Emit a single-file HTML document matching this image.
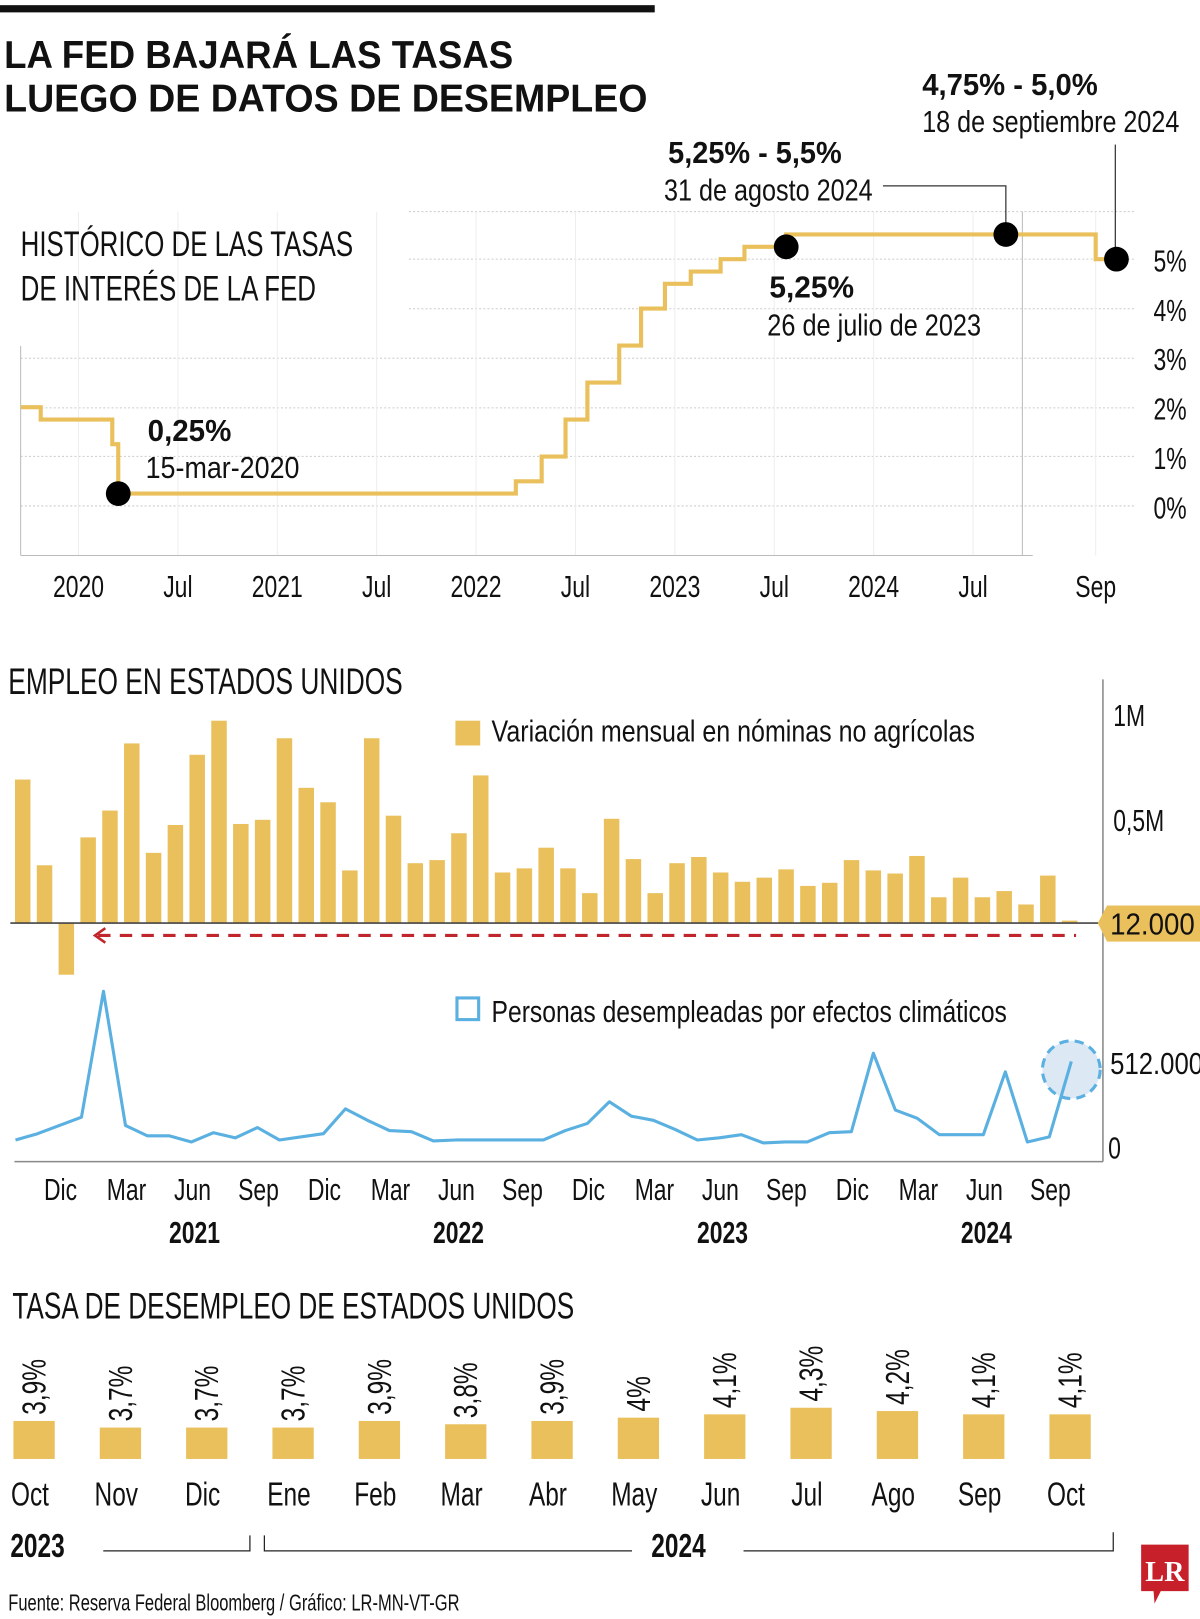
<!DOCTYPE html>
<html><head><meta charset="utf-8"><style>
html,body{margin:0;padding:0;background:#fff;}
svg{display:block;}
text{font-family:"Liberation Sans Narrow","Liberation Sans",sans-serif;fill:#111;}
.b{font-weight:bold;}
</style></head><body>
<svg id="s" width="1200" height="1619" viewBox="0 0 1162 1568" preserveAspectRatio="none" xmlns="http://www.w3.org/2000/svg">
<rect x="0" y="5" width="634" height="7" fill="#111"/>
<text x="4" y="66" font-size="38" class="b" textLength="493" lengthAdjust="spacingAndGlyphs">LA FED BAJARÁ LAS TASAS</text>
<text x="4" y="108" font-size="38" class="b" textLength="623" lengthAdjust="spacingAndGlyphs">LUEGO DE DATOS DE DESEMPLEO</text>
<g id="rate"></g>
<g id="emp"></g>
<g id="unemp"></g>
<text x="8" y="1560" font-size="22" textLength="437" lengthAdjust="spacingAndGlyphs">Fuente: Reserva Federal Bloomberg  / Gráfico: LR-MN-VT-GR</text>
<g>
<path d="M1105 1496 H1151 V1541 H1124 L1118 1553 L1117 1541 H1105 Z" fill="#c8202a"/>
<text x="1128" y="1531" font-size="28" class="b" text-anchor="middle" textLength="38" lengthAdjust="spacingAndGlyphs" style="fill:#fff;font-family:'Liberation Serif',serif">LR</text>
</g>
</svg>
<script>
const NS="http://www.w3.org/2000/svg";
// ---- Rate chart data ----
const rateDates=[2019.71,2019.81,2020.17,2020.2,2022.2,2022.33,2022.45,2022.56,2022.72,2022.83,2022.95,2023.08,2023.23,2023.35,2023.56,2024.66];
const rateValues=[2.0,1.75,1.25,0.25,0.5,1.0,1.75,2.5,3.25,4.0,4.5,4.75,5.0,5.25,5.5,5.0];
const rateEnd=2024.687;
const rateTicks=["0%","1%","2%","3%","4%","5%"];
const rateTickVals=[0,1,2,3,4,5];
const timeLabels=["2020","Jul","2021","Jul","2022","Jul","2023","Jul","2024","Jul","Sep"];
const timeLabelDates=[2020,2020.5,2021,2021.5,2022,2022.5,2023,2023.5,2024,2024.5,2024.66];
const markerDates=[2020.2,2023.56,2024.543,2024.687];
const markerValues=[0.25,5.25,5.5,5.0];
// ---- Employment data ----
const empMonths=["Oct20","Nov20","Dic20","Ene21","Feb21","Mar21","Abr21","May21","Jun21","Jul21","Ago21","Sep21","Oct21","Nov21","Dic21","Ene22","Feb22","Mar22","Abr22","May22","Jun22","Jul22","Ago22","Sep22","Oct22","Nov22","Dic22","Ene23","Feb23","Mar23","Abr23","May23","Jun23","Jul23","Ago23","Sep23","Oct23","Nov23","Dic23","Ene24","Feb24","Mar24","Abr24","May24","Jun24","Jul24","Ago24","Sep24","Oct24"];
const payrolls=[0.695,0.28,-0.25,0.415,0.545,0.87,0.34,0.475,0.815,0.98,0.48,0.50,0.895,0.655,0.585,0.255,0.895,0.52,0.29,0.305,0.435,0.715,0.245,0.265,0.365,0.265,0.145,0.505,0.31,0.145,0.29,0.32,0.245,0.20,0.22,0.26,0.18,0.195,0.305,0.255,0.24,0.325,0.125,0.22,0.125,0.155,0.09,0.23,0.012];
const weather=[37,75,125,175,936,125,62,62,25,81,50,112,37,56,75,225,156,94,87,31,37,37,37,37,37,94,137,268,181,156,100,37,50,69,19,25,25,81,87,562,218,168,69,69,69,449,25,56,512];
const empTickLabels=["Dic","Mar","Jun","Sep","Dic","Mar","Jun","Sep","Dic","Mar","Jun","Sep","Dic","Mar","Jun","Sep"];
const empTickIdx=[2,5,8,11,14,17,20,23,26,29,32,35,38,41,44,47];
const empYears=["2021","2022","2023","2024"];
const empYearIdx=[8,20,32,44];
// ---- Unemployment rate data ----
const uMonths=["Oct","Nov","Dic","Ene","Feb","Mar","Abr","May","Jun","Jul","Ago","Sep","Oct"];
const uValues=[3.9,3.7,3.7,3.7,3.9,3.8,3.9,4.0,4.1,4.3,4.2,4.1,4.1];
const uLabels=["3,9%","3,7%","3,7%","3,7%","3,9%","3,8%","3,9%","4%","4,1%","4,3%","4,2%","4,1%","4,1%"];

function el(parent,tag,attrs,txt){const e=document.createElementNS(NS,tag);for(const k in attrs)e.setAttribute(k,attrs[k]);if(txt!==undefined)e.textContent=txt;parent.appendChild(e);return e;}

// ===== RATE CHART =====
(function(){
const g=document.getElementById('rate');
const yR=v=>490-v*47.8;
const xT=t=>t<=2024.5?76+(t-2020)*192.5:942+(t-2024.5)/0.16*119;
[205,251,299].forEach(y=>{const l=el(g,'line',{x1:396,x2:1100,y1:y,y2:y,stroke:'#ccc','stroke-dasharray':'2 2'});});
[347,395,442,490].forEach(y=>{const l=el(g,'line',{x1:20,x2:1100,y1:y,y2:y,stroke:'#ccc','stroke-dasharray':'2 2'});});
timeLabelDates.forEach((d,i)=>{const x=xT(d);const l=el(g,'line',{x1:x,x2:x,y1:205,y2:538,stroke:'#eee'});
const t=el(g,'text',{x:x,y:578,'font-size':30,'text-anchor':'middle'},timeLabels[i]);});
el(g,'line',{x1:20,x2:20,y1:335,y2:538,stroke:'#bbb'});
el(g,'line',{x1:990,x2:990,y1:205,y2:538,stroke:'#bbb'});
const ax=el(g,'line',{x1:20,x2:1000,y1:538,y2:538,stroke:'#bbb'});
rateTickVals.forEach((v,i)=>{const t=el(g,'text',{x:1117,y:yR(v)+12,'font-size':30},rateTicks[i]);});
let d='M'+xT(rateDates[0])+' '+yR(rateValues[0]);
for(let i=1;i<rateDates.length;i++){d+=' H'+xT(rateDates[i])+' V'+yR(rateValues[i]);}
d+=' H'+xT(rateEnd);
const p=el(g,'path',{d:d,fill:'none',stroke:'#e9c05c','stroke-width':4});
el(g,'polyline',{points:'855,180 974,180 974,222',fill:'none',stroke:'#333','stroke-width':1.2});
el(g,'line',{x1:1080,x2:1080,y1:140,y2:245,stroke:'#333','stroke-width':1.2});
markerDates.forEach((m,i)=>{const c=el(g,'circle',{cx:xT(m),cy:yR(markerValues[i]),r:12,fill:'#000'});});
const ann=[[893,92,'4,75% - 5,0%',true,170],[893,128,'18 de septiembre 2024',false,249],[647,158,'5,25% - 5,5%',true,168],[643,194,'31 de agosto 2024',false,202],[745,288,'5,25%',true,82],[743,325,'26 de julio de 2023',false,207],[143,427,'0,25%',true,81],[141,463,'15-mar-2020',false,149]];
ann.forEach(a=>{const t=el(g,'text',{x:a[0],y:a[1],'font-size':30,textLength:a[4],lengthAdjust:'spacingAndGlyphs'},a[2]);if(a[3])t.setAttribute('class','b');});
const s1=el(g,'text',{x:20,y:248,'font-size':34,textLength:322,lengthAdjust:'spacingAndGlyphs'},'HISTÓRICO DE LAS TASAS');
const s2=el(g,'text',{x:20,y:291,'font-size':34,textLength:286,lengthAdjust:'spacingAndGlyphs'},'DE INTERÉS DE LA FED');
})();

// ===== EMPLOYMENT CHART =====
(function(){
const g=document.getElementById('emp');
const xB=i=>22+i*21.12;
const xM=i=>15+i*21.3;
const yP=v=>894-v*200;
const yW=v=>1110-v*82/512;
const t0=el(g,'text',{x:8,y:672,'font-size':36,textLength:382,lengthAdjust:'spacingAndGlyphs'},'EMPLEO EN ESTADOS UNIDOS');
el(g,'line',{x1:1068,x2:1068,y1:658,y2:1125,stroke:'#888','stroke-width':1.5});
const l1=el(g,'text',{x:1078,y:703,'font-size':30},'1M');
const l2=el(g,'text',{x:1078,y:805,'font-size':30},'0,5M');
payrolls.forEach((v,i)=>{const y=Math.min(yP(v),yP(0)),h=Math.abs(yP(v)-yP(0));const r=el(g,'rect',{x:xB(i)-7.5,y:y,width:15,height:Math.max(h,1.5),fill:'#e9c05c'});});
const z=el(g,'line',{x1:10,x2:1068,y1:894,y2:894,stroke:'#444','stroke-width':1.5});
const dl=el(g,'line',{x1:95,x2:1042,y1:906,y2:906,stroke:'#c0262b','stroke-width':3,'stroke-dasharray':'12 9'});
el(g,'polyline',{points:'102,899 92,906 102,913',fill:'none',stroke:'#c0262b','stroke-width':2.5});
const tag=el(g,'path',{d:'M1063 894 L1072 877 H1162 V912 H1072 Z',fill:'#e9c05c'});
const tv=el(g,'text',{x:1075,y:905,'font-size':30,textLength:82,lengthAdjust:'spacingAndGlyphs'},'12.000');
const lg1=el(g,'rect',{x:441,y:698,width:24,height:24,fill:'#e9c05c'});
const lt1=el(g,'text',{x:476,y:718,'font-size':30,textLength:468,lengthAdjust:'spacingAndGlyphs'},'Variación mensual en nóminas no agrícolas');
const lg2=el(g,'rect',{x:442.5,y:966.5,width:21,height:21,fill:'none',stroke:'#5ab0e0','stroke-width':3});
const lt2=el(g,'text',{x:476,y:990,'font-size':30,textLength:499,lengthAdjust:'spacingAndGlyphs'},'Personas desempleadas por efectos climáticos');
const lastX=xM(weather.length-1),lastY=yW(weather[weather.length-1]);
const hc=el(g,'circle',{cx:lastX,cy:lastY+8,r:28,fill:'#dde8f5',stroke:'#5ab0e0','stroke-width':3,'stroke-dasharray':'9 6'});
const pts=weather.map((v,i)=>xM(i)+','+yW(v)).join(' ');
const wl=el(g,'polyline',{points:pts,fill:'none',stroke:'#5ab0e0','stroke-width':3,'stroke-linejoin':'round'});
const ba=el(g,'line',{x1:14,x2:1068,y1:1125,y2:1125,stroke:'#888','stroke-width':1.5});
const w1=el(g,'text',{x:1075,y:1040,'font-size':30,textLength:90,lengthAdjust:'spacingAndGlyphs'},'512.000');
const w0=el(g,'text',{x:1073,y:1122,'font-size':30},'0');
empTickIdx.forEach((idx,i)=>{const t=el(g,'text',{x:xM(idx)+1,y:1162,'font-size':30,'text-anchor':'middle'},empTickLabels[i]);});
empYearIdx.forEach((idx,i)=>{const t=el(g,'text',{x:xM(idx)+3,y:1204,'font-size':30,'text-anchor':'middle',class:'b'},empYears[i]);});
})();

// ===== UNEMPLOYMENT RATE =====
(function(){
const g=document.getElementById('unemp');
const xU=i=>33+i*83.6;
const hU=v=>(v-2.75)*32;
const t0=el(g,'text',{x:12,y:1277,'font-size':36,textLength:544,lengthAdjust:'spacingAndGlyphs'},'TASA DE DESEMPLEO DE ESTADOS UNIDOS');
uValues.forEach((v,i)=>{const x=xU(i),h=hU(v),top=1413-h;
const r=el(g,'rect',{x:x-20,y:top,width:40,height:h,fill:'#e9c05c'});
const t=el(g,'text',{x:0,y:0,'font-size':32,transform:'translate('+(x+11)+','+(top-6)+') rotate(-90)'},uLabels[i]);
const m=el(g,'text',{x:x-4,y:1458,'font-size':32,'text-anchor':'middle'},uMonths[i]);});
const y1=el(g,'text',{x:10,y:1508,'font-size':32,class:'b'},'2023');
const y2=el(g,'text',{x:657,y:1508,'font-size':32,class:'b','text-anchor':'middle'},'2024');
el(g,'polyline',{points:'100,1502 242,1502 242,1487',fill:'none',stroke:'#222','stroke-width':1.2});
el(g,'polyline',{points:'256,1487 256,1502 612,1502',fill:'none',stroke:'#222','stroke-width':1.2});
el(g,'polyline',{points:'720,1502 1078,1502 1078,1484',fill:'none',stroke:'#222','stroke-width':1.2});
})();

// condense all text lacking explicit textLength (mimic condensed typeface)
document.querySelectorAll('#s text').forEach(t=>{
  if(!t.hasAttribute('textLength')){
    const w=t.getComputedTextLength();
    if(w>0){t.setAttribute('textLength',(w*0.74).toFixed(1));t.setAttribute('lengthAdjust','spacingAndGlyphs');}
  }
});
</script>
</body></html>
